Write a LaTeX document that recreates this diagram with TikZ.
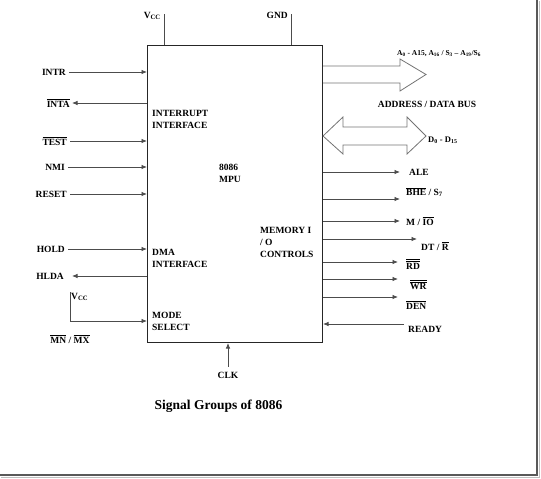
\documentclass[tikz,border=0pt]{standalone}
\usepackage{fontspec}
\setmainfont{Liberation Serif}
\usepackage{amsmath}
\usepackage{xcolor}
\usetikzlibrary{arrows.meta}

\newcommand{\ovl}[1]{$\overline{\mbox{#1}}$}
\newcommand{\dovl}[1]{$\overline{\overline{\mbox{#1}}}$}

\tikzset{
  sig/.style={font=\fontsize{9.5}{12}\selectfont\bfseries, inner sep=1pt},
  wire/.style={draw=black!70, line width=0.8pt},
  bus/.style={draw=black!55, line width=0.8pt},
}

\begin{document}
\begin{tikzpicture}[x=1pt, y=-1pt, >={Latex[length=5.5pt,width=4.5pt]}]
    \useasboundingbox (0,0) rectangle (541,479);
    % Frame shadow
    \draw[black!25, line width=1.5pt] (539.5,1) -- (539.5,477.5) -- (1,477.5);
    \draw[black!65, line width=2pt] (537,0) -- (537,475) -- (0,475);

    % Processor block
    \node[draw=black!85, line width=1pt, minimum width=175pt, minimum height=297pt,
          anchor=north west, inner sep=0pt] (mpu) at (147,45) {};
    \node[sig, anchor=west, align=left] (intf) at (151,119) {INTERRUPT\\INTERFACE};
    \node[sig, anchor=west, align=left] (cpu) at (218,173) {8086\\MPU};
    \node[sig, anchor=west, align=left] (memio) at (259,242) {MEMORY I\\/ O\\CONTROLS};
    \node[sig, anchor=west, align=left] (dma) at (151,258) {DMA\\INTERFACE};
    \node[sig, anchor=west, align=left] (mode) at (151,321) {MODE\\SELECT};

    % Supply
    \node[sig, anchor=east] (vcc) at (162,16) {V\textsubscript{CC}};
    \coordinate (vcctop) at (164,14);
    \draw[wire] (vcctop) -- (vcctop |- mpu.north);
    \node[sig, anchor=east] (gnd) at (289,15) {GND};
    \coordinate (gndtop) at (291,14);
    \draw[wire] (gndtop) -- (gndtop |- mpu.north);

    % Left inputs
    \foreach \x/\y/\nm/\txt in {67/72/intr/INTR, 68/141/test/\ovl{TEST}, 66/167/nmi/NMI,
                                68/194/reset/RESET, 66/249/hold/HOLD} {
        \node[sig, anchor=east] (\nm) at (\x,\y) {\txt};
        \draw[wire,->] ([xshift=2pt]\nm.east) -- (\nm.east -| mpu.west);
    }

    % Left outputs
    \foreach \x/\y/\nm/\txt in {71/103/inta/\ovl{INTA}, 65/276/hlda/HLDA} {
        \node[sig, anchor=east] (\nm) at (\x,\y) {\txt};
        \coordinate (\nm tip) at (72,\y);
        \draw[wire,->] (\nm tip -| mpu.west) -- (\nm tip);
    }

    % Mode select
    \node[sig, anchor=west] (vccm) at (70,297) {V\textsubscript{CC}};
    \draw[wire,->] (vccm.north west) |- (mpu.west |- mode.west);
    \node[sig] (mnmx) at (70,339) {\ovl{MN} / \ovl{MX}};

    % Clock
    \node[sig] (clk) at (228,375) {CLK};
    \draw[wire,->] ([yshift=4pt]clk.north) -- (clk.north |- mpu.south);

    % Buses
    \draw[bus] (mpu.east |- 0,66) -- (400,66) -- (400,59) -- (426,74.5) -- (400,91)
        -- (400,83) -- (mpu.east |- 0,83);
    \draw[bus] (mpu.east |- 0,136) -- (343,117) -- (343,127) -- (407,127) -- (407,117)
        -- (426,136) -- (407,154) -- (407,145) -- (343,145) -- (343,154) -- cycle;
    \node[sig, font=\fontsize{7.5}{9}\selectfont\bfseries] (addr) at (439,54)
        {A\textsubscript{0} - A15, A\textsubscript{16} / S\textsubscript{3} -- A\textsubscript{19}/S\textsubscript{6}};
    \node[sig] (adbus) at (427,104) {ADDRESS / DATA BUS};
    \node[sig, anchor=west, font=\fontsize{8.5}{10}\selectfont\bfseries] (data) at (427,140)
        {D\textsubscript{0} - D\textsubscript{15}};

    % Right outputs
    \foreach \y/\tip/\nm in {172/400/ale, 199/400/bhe, 221/400/mio, 239/417/dtr,
                             262/398/rd, 279/398/wr, 297/398/den} {
        \coordinate (\nm tip) at (\tip,\y);
        \draw[wire,->] (\nm tip -| mpu.east) -- (\nm tip);
    }
    \node[sig, anchor=west] (ale) at (408,172) {ALE};
    \node[sig, anchor=west] (bhe) at (405,192) {\ovl{BHE} / S\textsubscript{7}};
    \node[sig, anchor=west] (mio) at (405,221) {M / \ovl{IO}};
    \node[sig, anchor=west] (dtr) at (420,246) {DT / \ovl{R}};
    \node[sig, anchor=west] (rd) at (405,264) {\dovl{RD}};
    \node[sig, anchor=west] (wr) at (409,285) {\dovl{WR}};
    \node[sig, anchor=west] (den) at (405,305) {\ovl{DEN}};

    % Ready input
    \node[sig, anchor=west] (ready) at (407,329) {READY};
    \coordinate (readyend) at (404,324);
    \draw[wire,->] (readyend) -- (readyend -| mpu.east);

    % Caption
    \node[font=\fontsize{13.5}{16}\selectfont\bfseries] (title) at (218.5,406) {Signal Groups of 8086};
\end{tikzpicture}
\end{document}
